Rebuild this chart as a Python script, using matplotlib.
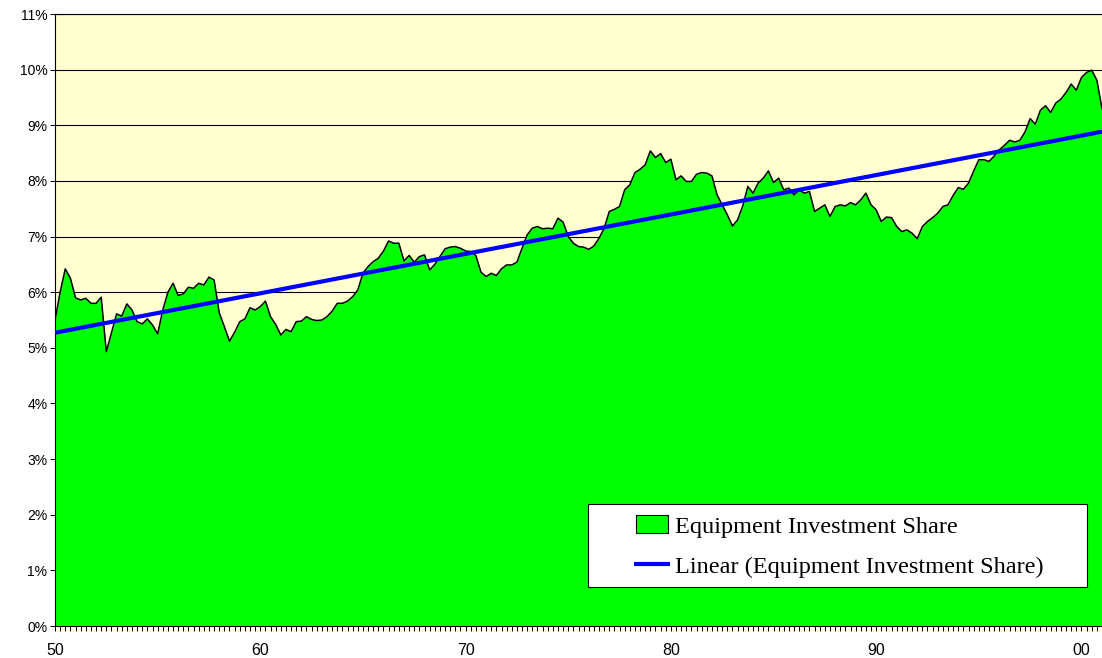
import numpy as np
import matplotlib.pyplot as plt
from matplotlib.patches import Rectangle, Patch
from matplotlib.lines import Line2D
from matplotlib.ticker import MultipleLocator, FixedLocator, FuncFormatter

# quarterly equipment investment share (%), 1950Q1 .. 2001Q1
share = [
    5.50, 6.00, 6.42, 6.25, 5.90, 5.86, 5.89, 5.80, 5.80, 5.91,
    4.93, 5.27, 5.61, 5.57, 5.79, 5.68, 5.47, 5.43, 5.52, 5.41,
    5.25, 5.68, 6.00, 6.16, 5.94, 5.97, 6.09, 6.07, 6.16, 6.13,
    6.27, 6.22, 5.63, 5.38, 5.12, 5.28, 5.47, 5.52, 5.72, 5.68,
    5.74, 5.84, 5.56, 5.42, 5.23, 5.33, 5.29, 5.47, 5.48, 5.56,
    5.51, 5.49, 5.50, 5.56, 5.66, 5.80, 5.80, 5.84, 5.92, 6.04,
    6.34, 6.46, 6.55, 6.61, 6.74, 6.92, 6.88, 6.88, 6.56, 6.66,
    6.54, 6.64, 6.67, 6.40, 6.50, 6.64, 6.78, 6.81, 6.82, 6.79,
    6.74, 6.73, 6.66, 6.36, 6.28, 6.34, 6.30, 6.42, 6.49, 6.49,
    6.54, 6.79, 7.03, 7.15, 7.18, 7.14, 7.15, 7.14, 7.33, 7.26,
    7.00, 6.88, 6.82, 6.81, 6.77, 6.83, 6.97, 7.15, 7.45, 7.49,
    7.54, 7.84, 7.93, 8.15, 8.21, 8.29, 8.54, 8.42, 8.49, 8.33,
    8.39, 8.02, 8.09, 7.99, 7.99, 8.12, 8.15, 8.14, 8.09, 7.75,
    7.57, 7.39, 7.19, 7.30, 7.55, 7.90, 7.78, 7.96, 8.05, 8.18,
    7.97, 8.05, 7.84, 7.87, 7.75, 7.84, 7.78, 7.81, 7.45, 7.51,
    7.57, 7.36, 7.54, 7.57, 7.55, 7.61, 7.57, 7.66, 7.78, 7.57,
    7.48, 7.27, 7.35, 7.34, 7.18, 7.09, 7.12, 7.06, 6.96, 7.18,
    7.27, 7.34, 7.42, 7.54, 7.57, 7.74, 7.88, 7.85, 7.96, 8.18,
    8.38, 8.38, 8.35, 8.45, 8.56, 8.64, 8.73, 8.70, 8.73, 8.88,
    9.12, 9.02, 9.27, 9.35, 9.23, 9.40, 9.47, 9.59, 9.74, 9.63,
    9.86, 9.95, 9.99, 9.81, 9.30,
]
year_labels = ["50", "60", "70", "80", "90", "00"]

y = np.array(share)
x = np.arange(len(y))
coef = np.polyfit(x, y, 1)
trend = np.polyval(coef, x)

fig = plt.figure(figsize=(11.02, 6.58), dpi=100)
ax = fig.add_axes([55 / 1102, 32 / 658, 1047 / 1102, 612 / 658])
ax.set_facecolor("#FFFFD0")

ax.fill_between(x, 0, y, color="#00FF00", lw=0, zorder=2)
ax.plot(x, y, color="black", lw=1.1, zorder=3)
ax.plot(x, trend, color="#0000FF", lw=3.0, zorder=4, solid_capstyle="butt")

ax.set_xlim(0, len(y) - 1)
ax.set_ylim(0, 11)
ax.set_axisbelow(True)
ax.yaxis.set_major_locator(MultipleLocator(1))
ax.yaxis.set_major_formatter(FuncFormatter(lambda v, p: f"{v:.0f}%"))
ax.grid(axis="y", color="black", lw=0.8)

ax.xaxis.set_major_locator(FixedLocator([i * 40 for i in range(len(year_labels))]))
ax.xaxis.set_major_formatter(FuncFormatter(lambda v, p: year_labels[p] if p is not None and p < len(year_labels) else ""))
ax.xaxis.set_minor_locator(MultipleLocator(1))
ax.tick_params(axis="x", which="both", direction="out", length=3.5, width=0.7, pad=9)
ax.tick_params(axis="y", direction="out", length=3.5, width=0.7, pad=2)
for lab in ax.get_xticklabels():
    lab.set_fontfamily("Liberation Sans")
    lab.set_fontsize(11.5)
for lab in ax.get_yticklabels():
    lab.set_fontfamily("Liberation Sans")
    lab.set_fontsize(10)

for s in ["left", "bottom", "top"]:
    ax.spines[s].set_color("black")
    ax.spines[s].set_linewidth(0.8)
ax.spines["right"].set_visible(False)

# legend box
ax.add_patch(Rectangle((0.509, 0.0637), 0.4766, 0.1356, transform=ax.transAxes,
                       facecolor="white", edgecolor="black", lw=0.8, zorder=5))
handles = [Patch(facecolor="#00FF00", edgecolor="black", lw=0.8),
           Line2D([0], [0], color="#0000FF", lw=3.0)]
labels = ["Equipment Investment Share", "Linear (Equipment Investment Share)"]
leg = ax.legend(handles, labels, loc="upper left", bbox_to_anchor=(0.555, 0.181),
                frameon=False, borderpad=0, borderaxespad=0, handlelength=1.3,
                handleheight=0.75, handletextpad=0.3, labelspacing=0.74,
                prop={"family": "Liberation Serif", "size": 17.5})
leg.set_zorder(6)

fig.savefig("out.png", dpi=100)
